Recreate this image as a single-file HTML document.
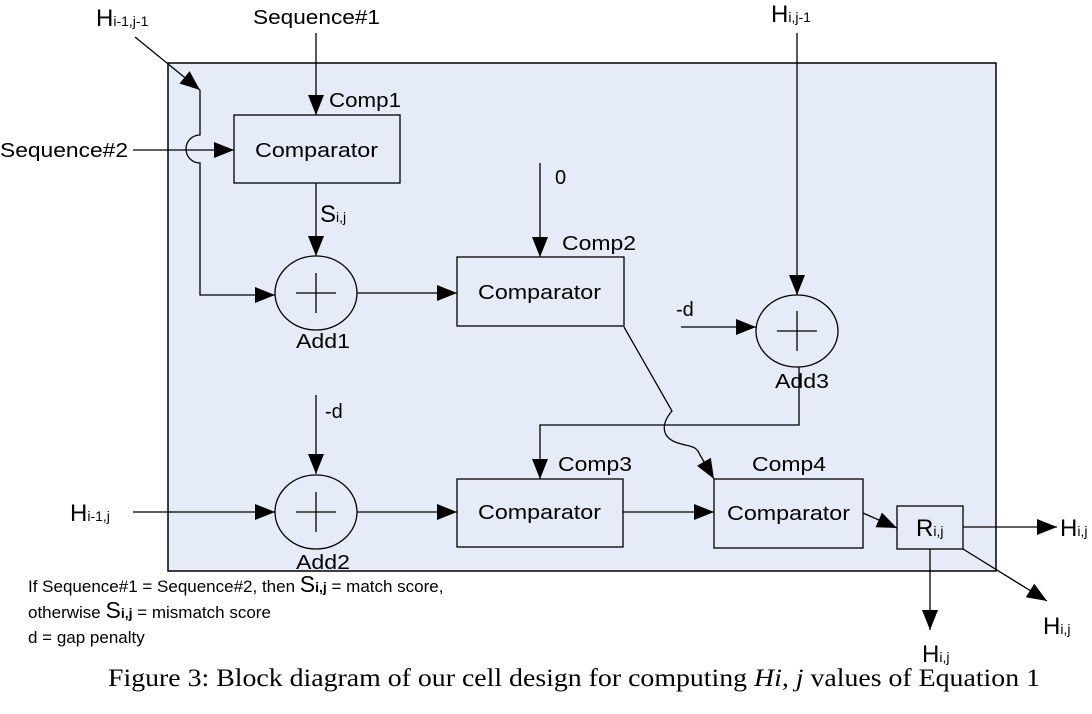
<!DOCTYPE html>
<html><head><meta charset="utf-8"><style>
html,body{margin:0;padding:0;background:#fff;}
svg{display:block;}
text{font-family:"Liberation Sans",sans-serif;fill:#000;}
text.cap{font-family:"Liberation Serif",serif;}
</style></head><body>
<svg width="1092" height="714" viewBox="0 0 1092 714" xmlns="http://www.w3.org/2000/svg">
<defs>
<marker id="a" viewBox="0 0 10 10" refX="10" refY="5" markerWidth="20" markerHeight="20" markerUnits="userSpaceOnUse" orient="auto">
<path d="M0,1 L10,5 L0,9 z" fill="#000"/></marker>
</defs>
<rect x="168" y="63" width="828" height="508" fill="#e6ecf7" stroke="#000" stroke-width="1.5"/>
<g fill="none" stroke="#000" stroke-width="1.3">
<rect x="234" y="115" width="166" height="68"/>
<rect x="457" y="257" width="167" height="69"/>
<rect x="457" y="479" width="166" height="68"/>
<rect x="714" y="479" width="149" height="69"/>
<rect x="897" y="506" width="66" height="43"/>
<ellipse cx="316" cy="293" rx="41" ry="37"/>
<ellipse cx="797" cy="331" rx="41" ry="36"/>
<ellipse cx="316" cy="512" rx="41" ry="37"/>
<path d="M296,293 H336 M316,273 V313 M777,331 H817 M797,311 V351 M296,512 H336 M316,492 V532"/>
<path d="M135,37 L200,90" marker-end="url(#a)"/>
<path d="M200,90 V135 A14,14 0 0 0 200,163 V295 H275" marker-end="url(#a)"/>
<path d="M133,150 H234" marker-end="url(#a)"/>
<path d="M316,33 V115" marker-end="url(#a)"/>
<path d="M316,183 V256" marker-end="url(#a)"/>
<path d="M357,293 H457" marker-end="url(#a)"/>
<path d="M540,163 V257" marker-end="url(#a)"/>
<path d="M797,33 V295" marker-end="url(#a)"/>
<path d="M681,327 H756" marker-end="url(#a)"/>
<path d="M799,367 V425 H540 V479" marker-end="url(#a)"/>
<path d="M624,327 L672,411 C660,425 662,438 678,443 C690,447 696,445 700,455 L714,479" marker-end="url(#a)"/>
<path d="M316,395 V474" marker-end="url(#a)"/>
<path d="M133,512 H275" marker-end="url(#a)"/>
<path d="M357,512 H457" marker-end="url(#a)"/>
<path d="M623,512 H714" marker-end="url(#a)"/>
<path d="M863,513 L897,528" marker-end="url(#a)"/>
<path d="M963,527 H1057" marker-end="url(#a)"/>
<path d="M930,549 V630" marker-end="url(#a)"/>
<path d="M963,549 L1047,601" marker-end="url(#a)"/>
</g>
<g font-size="20">
<text x="96" y="26" font-size="24">H<tspan font-size="14">i-1,j-1</tspan></text>
<text x="253" y="24" textLength="127" lengthAdjust="spacingAndGlyphs">Sequence#1</text>
<text x="771" y="22" font-size="24">H<tspan font-size="14">i,j-1</tspan></text>
<text x="329" y="107" textLength="72" lengthAdjust="spacingAndGlyphs">Comp1</text>
<text x="0" y="157" textLength="128" lengthAdjust="spacingAndGlyphs">Sequence#2</text>
<text x="255" y="157" textLength="123" lengthAdjust="spacingAndGlyphs">Comparator</text>
<text x="320" y="222" font-size="24">S<tspan font-size="14">i,j</tspan></text>
<text x="555" y="184">0</text>
<text x="562" y="250" textLength="74" lengthAdjust="spacingAndGlyphs">Comp2</text>
<text x="478" y="299" textLength="123" lengthAdjust="spacingAndGlyphs">Comparator</text>
<text x="676" y="316">-d</text>
<text x="296" y="348" textLength="54" lengthAdjust="spacingAndGlyphs">Add1</text>
<text x="775" y="388" textLength="54" lengthAdjust="spacingAndGlyphs">Add3</text>
<text x="325" y="418">-d</text>
<text x="558" y="471" textLength="74" lengthAdjust="spacingAndGlyphs">Comp3</text>
<text x="752" y="471" textLength="74" lengthAdjust="spacingAndGlyphs">Comp4</text>
<text x="70" y="521" font-size="24">H<tspan font-size="14">i-1,j</tspan></text>
<text x="478" y="519" textLength="123" lengthAdjust="spacingAndGlyphs">Comparator</text>
<text x="727" y="520" textLength="123" lengthAdjust="spacingAndGlyphs">Comparator</text>
<text x="916" y="536" font-size="24">R<tspan font-size="14">i,j</tspan></text>
<text x="1060" y="536" font-size="24">H<tspan font-size="14">i,j</tspan></text>
<text x="296" y="569" textLength="54" lengthAdjust="spacingAndGlyphs">Add2</text>
<text x="1043" y="634" font-size="24">H<tspan font-size="14">i,j</tspan></text>
<text x="922" y="662" font-size="24">H<tspan font-size="14">i,j</tspan></text>
</g>
<g font-size="17">
<text x="28" y="592">If Sequence#1 = Sequence#2, then <tspan font-size="23">S</tspan><tspan font-size="14" font-weight="bold">i,j</tspan> = match score,</text>
<text x="28" y="618">otherwise <tspan font-size="23">S</tspan><tspan font-size="14" font-weight="bold">i,j</tspan> = mismatch score</text>
<text x="28" y="643">d = gap penalty</text>
</g>
<text class="cap" x="108" y="686" font-size="25" textLength="932" lengthAdjust="spacingAndGlyphs">Figure 3: Block diagram of our cell design for computing <tspan font-style="italic">Hi, j</tspan> values of Equation 1</text>
</svg>
</body></html>
